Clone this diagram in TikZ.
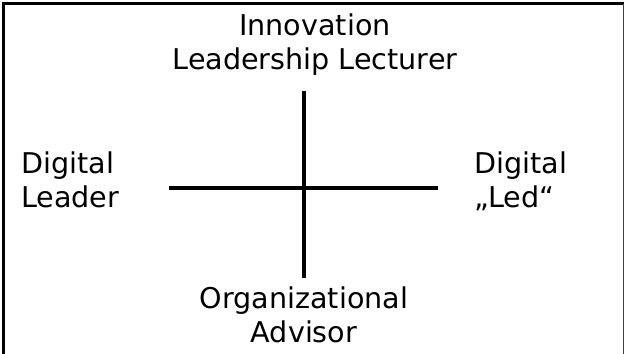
\documentclass[tikz,border=0pt]{standalone}
\usepackage{fontspec}
\setmainfont{DejaVu Sans}
\begin{document}
\begin{tikzpicture}[x=1pt,y=-1pt,
  lbl/.style={align=center,inner sep=0pt,anchor=base,font=\fontsize{28.6}{34}\selectfont},
  lbll/.style={align=left,inner sep=0pt,anchor=base west,font=\fontsize{28.6}{34}\selectfont},
  axis/.style={line width=3.5pt,black},
  frame/.style={line width=3.5pt,black},
  thinframe/.style={line width=1.5pt,black!75}]
\useasboundingbox (0,0) rectangle (625,354);
\coordinate (bl) at (3.5,354);
\coordinate (tl) at (3.5,3.5);
\coordinate (tr) at (623.5,3.5);
\coordinate (br) at (623.5,354);
\draw[frame] (bl) -- (tl) -- (tr);
\draw[thinframe] (tr) -- (br);
\coordinate (n) at (304,91);
\coordinate (s) at (304,278);
\coordinate (w) at (169,188);
\coordinate (e) at (438,188);
\draw[axis] (n) -- (s);
\draw[axis] (w) -- (e);
\node[lbl] (top) at (315,69) {Innovation\\Leadership Lecturer};
\node[lbll] (left) at (21,207) {Digital\\Leader};
\node[lbll] (right) at (474,207) {Digital\\„Led“};
\node[lbl] (bottom) at (304,342) {Organizational\\Advisor};
\end{tikzpicture}
\end{document}
